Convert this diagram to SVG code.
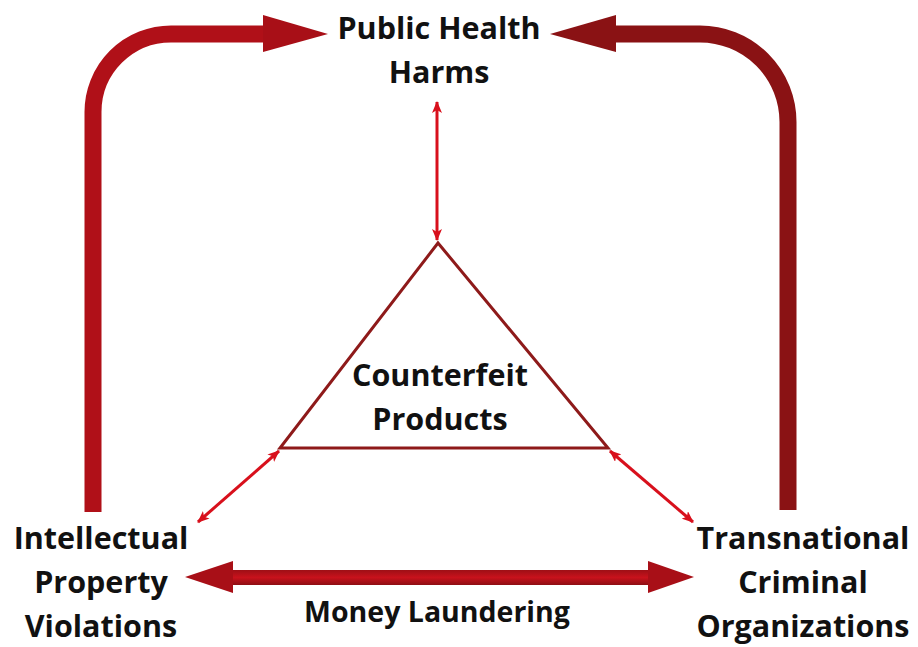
<svg xmlns="http://www.w3.org/2000/svg" width="918" height="647" viewBox="0 0 918 647">
<style>
text{font-family:"Open Sans","Liberation Sans",sans-serif;font-weight:bold;font-size:30.5px;fill:#111;text-anchor:middle}
.thin{stroke:#D8101C;stroke-width:3;fill:none}
</style>
<defs>
<marker id="ah" viewBox="0 0 12 10" refX="11" refY="5" markerWidth="12" markerHeight="10" markerUnits="userSpaceOnUse" orient="auto-start-reverse">
<path d="M0,0 L12,5 L0,10 L3,5 Z" fill="#D8101C"/>
</marker>
<linearGradient id="gm" x1="0" y1="0" x2="0" y2="1">
<stop offset="0" stop-color="#9E0F16"/><stop offset="0.5" stop-color="#C8121C"/><stop offset="1" stop-color="#8E0E14"/>
</linearGradient>
</defs>
<rect width="918" height="647" fill="#fff"/>
<g id="connectors">
<path id="arrow-ip-health" d="M93,512 L93,112 A78,78 0 0 1 171,34 L265,34" fill="none" stroke="#B01018" stroke-width="17"/>
<path d="M263,15 L328,34 L263,52 Z" fill="#A80F17"/>
<path id="arrow-tco-health" d="M788,510 L788,122 A88,88 0 0 0 700,34 L612,34" fill="none" stroke="#8A1214" stroke-width="17"/>
<path d="M616,15 L550,34 L616,52 Z" fill="#8A1214"/>
<rect id="arrow-money" x="230" y="570" width="420" height="15" fill="url(#gm)"/>
<path d="M233,561 L185,577 L233,593 Z" fill="#A80F17"/>
<path d="M648,561 L694,577 L648,593 Z" fill="#A80F17"/>
<line class="thin" x1="437" y1="102" x2="437" y2="240" marker-start="url(#ah)" marker-end="url(#ah)"/>
<line class="thin" x1="279" y1="451" x2="198" y2="522" marker-start="url(#ah)" marker-end="url(#ah)"/>
<line class="thin" x1="610" y1="451" x2="693" y2="522" marker-start="url(#ah)" marker-end="url(#ah)"/>
</g>
<g id="counterfeit">
<path d="M438,243 L608,448 L280,448 Z" fill="none" stroke="#8E1A1A" stroke-width="3" stroke-linejoin="miter"/>
<text x="440" y="386">Counterfeit</text>
<text x="440" y="430">Products</text>
</g>
<g id="public-health">
<text x="439" y="39">Public Health</text>
<text x="439" y="83">Harms</text>
</g>
<g id="ip-violations">
<text x="101" y="549">Intellectual</text>
<text x="101" y="593">Property</text>
<text x="101" y="637">Violations</text>
</g>
<g id="tco">
<text x="803" y="549">Transnational</text>
<text x="803" y="593">Criminal</text>
<text x="803" y="637">Organizations</text>
</g>
<g id="money-laundering">
<text x="437" y="622" style="font-size:28.5px">Money Laundering</text>
</g>
</svg>
